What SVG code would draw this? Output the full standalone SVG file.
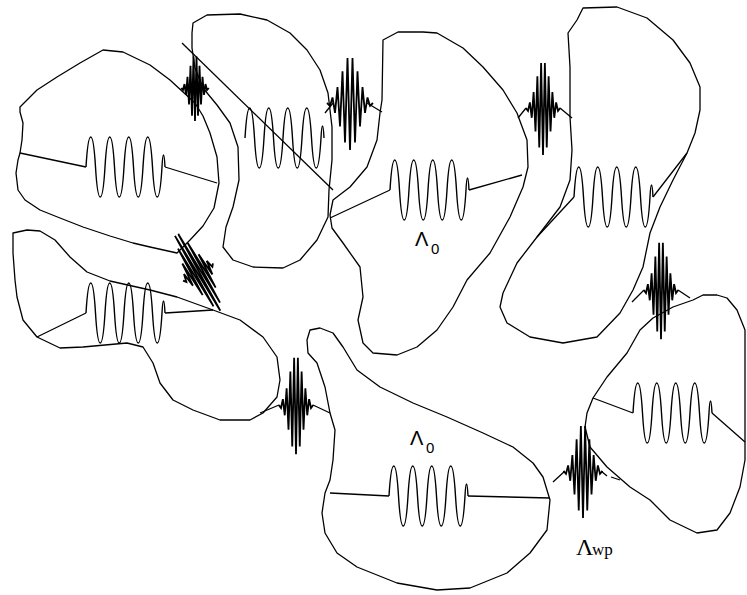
<svg xmlns="http://www.w3.org/2000/svg" xmlns:xlink="http://www.w3.org/1999/xlink" width="747" height="595" viewBox="0 0 747 595">
<style>
.b{fill:none;stroke:#000;stroke-width:1.3;stroke-linejoin:round;stroke-linecap:round}
.w{fill:none;stroke:#000;stroke-width:1.4}
.p{fill:none;stroke:#000;stroke-width:1.8;stroke-linejoin:miter}
.l{fill:none;stroke:#000;stroke-width:1.3}
.lab{font-family:"Liberation Sans",Arial,sans-serif;fill:#000}
.ser{font-family:"Liberation Serif","Times New Roman",serif;fill:#000}
</style>
<defs>
<path id="wv" class="w" d="M0,0 c2.4,-40 7.1,-40 9.5,0 c2.4,40 7.1,40 9.5,0 c2.4,-40 7.1,-40 9.5,0 c2.4,40 7.1,40 9.5,0 c2.4,-40 7.1,-40 9.5,0 c2.4,40 7.1,40 9.5,0 c2.4,-40 7.1,-40 9.5,0 c2.4,40 7.1,40 9.5,0 c0.8,-16 2.2,-16 3,0"/>
<path id="pk" class="p" vector-effect="non-scaling-stroke" d="M-23,0 L-20,2.9 L-17.5,-5.6 L-15,9.8 L-12.5,-15.9 L-10,23.5 L-7.5,-31.8 L-5,39.5 L-2.5,-45 L0,47 L2.5,-45 L5,39.5 L7.5,-31.8 L10,23.5 L12.5,-15.9 L15,9.8 L17.5,-5.6 L20,2.9 L23,0"/>
</defs>
<rect width="747" height="595" fill="#fff"/>

<g id="blobA">
<path class="b" d="M20,107 L37,90 L57,77 L80,63 L103,50 L123,52 L150,65 L170,80 L183,92 L195,103 L203,116 L210,133 L217,157 L219,183 L214,208 L203,226 L190,240 L177,253 L150,247 L133,243 L110,236 L83,227 L60,218 L40,210 L25,200 L18,190 L16,173 L18,160 L20,153 L22,140 L23,123 L20,112 Z"/>
<use href="#wv" x="86" y="167"/>
<path class="l" d="M20,153 L86,167 M165,167 L217,183"/>
</g>

<g id="blobB">
<path class="b" d="M193,23 L207,15 L240,14 L267,20 L290,33 L307,50 L320,70 L328,93 L332,127 L332,160 L329,190 L328,217 L317,240 L300,260 L283,268 L253,267 L233,260 L223,247 L226,227 L233,207 L239,180 L238,147 L230,123 L217,105 L203,88 L195,68 L192,48 L192,33 Z"/>
<use href="#wv" x="245" y="138"/>
<path class="l" d="M182,43 L333,190"/>
</g>

<g id="blobC">
<path class="b" d="M383,40 L398,32 L423,32 L437,33 L463,48 L483,67 L503,90 L517,113 L527,140 L528,167 L523,187 L510,217 L490,253 L467,280 L453,307 L437,330 L417,347 L397,355 L373,353 L363,343 L358,320 L363,297 L360,267 L343,243 L332,228 L330,215 L333,200 L350,187 L367,167 L377,140 L380,113 L382,100 Z"/>
<use href="#wv" x="390" y="190"/>
<path class="l" d="M330,218 L390,190 M469,190 L522,175"/>
<text class="lab" x="415" y="246" font-size="20">Λ</text>
<text class="lab" x="431" y="254" font-size="15">0</text>
</g>

<g id="blobD">
<path class="b" d="M583,8 L617,7 L647,18 L673,40 L690,63 L700,87 L700,110 L695,133 L687,153 L673,180 L660,207 L650,233 L643,267 L633,290 L620,313 L597,337 L563,343 L530,337 L507,323 L500,307 L503,293 L517,263 L537,237 L560,207 L570,180 L572,150 L570,117 L570,67 L568,33 L577,20 Z"/>
<use href="#wv" x="574" y="197"/>
<path class="l" d="M537,237 L574,197 M653,197 L687,153"/>
</g>

<g id="blobE">
<path class="b" d="M13,233 L27,230 L40,231 L55,240 L70,257 L87,272 L110,281 L150,290 L177,297 L213,310 L240,320 L263,337 L277,357 L280,380 L277,397 L263,413 L250,420 L220,420 L193,410 L173,400 L160,383 L153,363 L143,347 L127,343 L83,347 L60,348 L37,337 L23,320 L17,297 L15,280 L13,253 Z"/>
<use href="#wv" x="86" y="313"/>
<path class="l" d="M37,337 L86,313 M165,313 L213,310"/>
</g>

<g id="blobF">
<path class="b" d="M310,330 L320,328 L333,333 L343,347 L357,370 L380,387 L413,403 L447,417 L483,433 L513,447 L533,463 L543,477 L550,500 L547,530 L530,553 L507,573 L470,588 L437,590 L397,583 L357,567 L337,553 L325,533 L322,513 L325,493 L330,480 L333,460 L335,430 L330,413 L325,387 L317,363 L308,353 L307,340 Z"/>
<use href="#wv" x="389" y="496"/>
<path class="l" d="M330,493 L389,496 M468,496 L550,498"/>
<text class="lab" x="410" y="445" font-size="20">Λ</text>
<text class="lab" x="426" y="453" font-size="15">0</text>
</g>

<g id="blobG">
<path class="b" d="M593,398 L587,413 L585,427 L590,447 L607,467 L630,487 L650,500 L670,520 L697,533 L717,530 L730,513 L740,487 L745,460 L745,400 L745,330 L737,310 L727,298 L717,295 L703,295 L693,300 L673,307 L653,318 L640,330 L627,353 L607,377 Z"/>
<use href="#wv" x="633" y="413"/>
<path class="l" d="M593,398 L633,413 M712,413 L745,442"/>
</g>

<g id="packets">
<use href="#pk" transform="translate(195,88) scale(0.6,0.7)"/>
<use href="#pk" transform="translate(350,103)"/>
<use href="#pk" transform="translate(543,108) scale(0.75,1)"/>
<use href="#pk" transform="translate(198,272) rotate(-30) scale(0.75,0.95)"/>
<use href="#pk" transform="translate(296,405) scale(0.75,1.05)"/>
<use href="#pk" transform="translate(661,290) scale(0.75,1.05)"/>
<use href="#pk" transform="translate(583,471) scale(0.85,1)"/>
<path class="l" d="M325,113 L333,103 M367,103 L382,112 M518,118 L526,108 M560,108 L572,118 M260,413 L279,405 M313,405 L330,413 M632,302 L644,290 M678,290 L690,298 M553,482 L565,471 M601,471 L607,476 M611,477 L620,480"/>
<text class="ser" x="576" y="555" font-size="24">Λ</text>
<text class="ser" x="592" y="555" font-size="17">wp</text>
</g>
</svg>
